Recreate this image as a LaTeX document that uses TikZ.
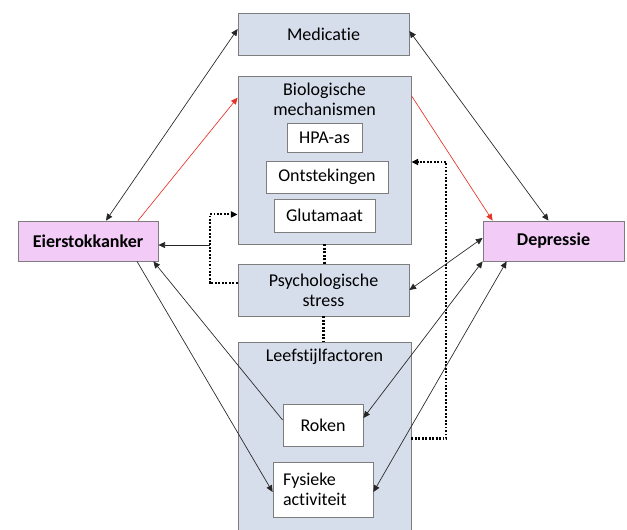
\documentclass[tikz,border=0pt]{standalone}
\usepackage{fontspec}
\setmainfont{Carlito}[Ligatures=NoCommon]
\usetikzlibrary{arrows.meta,calc,positioning}
\definecolor{boxblue}{RGB}{214,221,235}
\definecolor{boxpink}{RGB}{242,204,247}
\definecolor{edgegray}{RGB}{125,125,125}
\definecolor{arrowred}{RGB}{232,52,40}

\begin{document}
\begin{tikzpicture}[
  x=0.75pt, y=-0.75pt,
  >={Triangle[length=5pt,width=4.5pt]},
  font=\fontsize{13.5}{15}\selectfont,
  every node/.style={rectangle, draw=edgegray, line width=0.6pt, inner sep=2pt, align=center},
  blok/.style={fill=boxblue},
  roze/.style={fill=boxpink, font=\fontsize{13.5}{15}\selectfont\bfseries},
  sub/.style={fill=white},
  kop/.style={draw=none, anchor=north, yshift=-3pt},
  pijl/.style={draw=black!85, line width=0.5pt},
  stip/.style={draw=black, line width=1.6pt, dash pattern=on 1.4pt off 1.2pt}
]
\useasboundingbox (0,0) rectangle (627,529);
\clip (0,0) rectangle (627,529);

\node[blok, minimum width=128.25pt, minimum height=31.5pt] (med) at (323.5,34) {Medicatie};
\node[blok, minimum width=129.75pt, minimum height=126pt,
      label={[kop]north:Biologische\\mechanismen}] (bio) at (324.5,160) {};
\node[sub, minimum width=56.25pt, minimum height=21.75pt] (hpa) at (324.5,137.5) {HPA-as};
\node[sub, minimum width=91.5pt, minimum height=24pt] (ont) at (327,177) {Ontstekingen};
\node[sub, minimum width=75.75pt, minimum height=24.75pt] (glu) at (324.5,215.5) {Glutamaat};

\node[roze, minimum width=105pt, minimum height=30pt] (eier) at (88,241) {Eierstokkanker};
\node[roze, minimum width=105.75pt, minimum height=30pt] (dep) at (553.5,241) {Depressie};

\node[blok, minimum width=128.25pt, minimum height=39pt] (psy) at (323.5,290) {Psychologische\\stress};

\node[blok, minimum width=129.75pt, minimum height=144.75pt,
      label={[kop]north:Leefstijlfactoren}] (leef) at (324.5,438.5) {};
\node[sub, minimum width=60pt, minimum height=31.5pt] (rok) at (323,425) {Roken};
\node[sub, minimum width=75pt, minimum height=41.25pt, text width=60pt, align=left] (fys) at (323,489.5) {Fysieke\\activiteit};

\draw[pijl,<->] ($(med.west)+(0,-5)$) -- ($(eier.north)+(18,0)$);
\draw[pijl,<->] ($(med.east)+(0,-3)$) -- ($(dep.north)+(-5,0)$);

\draw[pijl,draw=arrowred,->] ($(eier.north)+(50,0)$) -- ($(bio.north west)+(0,22)$);
\draw[pijl,draw=arrowred,->] ($(bio.north east)+(0,20)$) -- ($(dep.north west)+(10,0)$);

% stippellijnen
\draw[stip,->] ($(psy.west)+(0,-7)$) -- ++(-28,0) |- ($(bio.south west)+(0,-30)$);
\draw[stip,->] (leef.east) -- ++(35,0) |- ($(bio.east)+(0,2)$);
\draw[stip] (bio.south) -- (bio.south |- psy.north);
\draw[stip] (psy.south) -- (psy.south |- leef.north);

\coordinate (tak) at ($(psy.west)+(-28,-45)$);
\draw[pijl,->] (tak) -- (tak -| eier.east);

\draw[pijl,<->] ($(dep.west)+(0,-3)$) -- (psy.east);
\draw[pijl,<->] (dep.south west) -- ($(rok.east)+(0,-7)$);
\draw[pijl,<->] ($(dep.south west)+(24,0)$) -- ($(fys.east)+(0,2.5)$);

\draw[pijl,->] ($(rok.west)+(0,-5)$) -- ($(eier.south east)+(-5,0)$);
\draw[pijl,->] ($(eier.south)+(49,0)$) -- ($(fys.west)+(0,2.5)$);

\end{tikzpicture}
\end{document}
